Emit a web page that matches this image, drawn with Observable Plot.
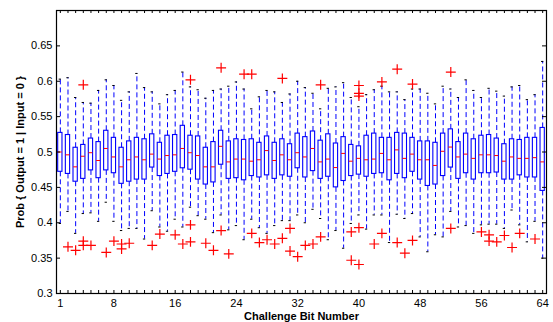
<!DOCTYPE html>
<html><head><meta charset="utf-8">
<script src="https://cdn.jsdelivr.net/npm/d3@7"></script>
<script src="https://cdn.jsdelivr.net/npm/@observablehq/plot@0.6"></script>
<style>body{margin:0;background:#fff}</style>
</head><body><div id="chart"></div>
<script>
const bits = d3.range(1, 65);
const hi = [0.603,0.605,0.577,0.570,0.569,0.587,0.602,0.594,0.573,0.585,0.611,0.591,0.585,0.568,0.581,0.587,0.613,0.592,0.588,0.576,0.587,0.589,0.593,0.599,0.589,0.561,0.578,0.587,0.585,0.570,0.582,0.600,0.591,0.583,0.561,0.590,0.592,0.598,0.577,0.564,0.581,0.588,0.593,0.585,0.585,0.574,0.589,0.589,0.583,0.568,0.593,0.589,0.577,0.602,0.587,0.577,0.590,0.586,0.579,0.592,0.594,0.574,0.581,0.628];
const q3 = [0.527,0.524,0.506,0.510,0.519,0.514,0.530,0.520,0.506,0.515,0.520,0.518,0.525,0.513,0.523,0.524,0.537,0.523,0.522,0.506,0.514,0.530,0.515,0.518,0.517,0.518,0.513,0.522,0.513,0.518,0.511,0.526,0.521,0.529,0.516,0.525,0.512,0.521,0.510,0.508,0.523,0.526,0.520,0.520,0.527,0.526,0.520,0.515,0.515,0.513,0.526,0.532,0.514,0.526,0.518,0.523,0.524,0.519,0.511,0.518,0.517,0.520,0.520,0.534];
const med = [0.500,0.496,0.479,0.494,0.499,0.488,0.505,0.493,0.479,0.489,0.493,0.489,0.497,0.490,0.495,0.496,0.505,0.499,0.495,0.479,0.479,0.508,0.486,0.490,0.490,0.487,0.489,0.502,0.488,0.496,0.489,0.499,0.493,0.505,0.486,0.490,0.478,0.498,0.487,0.491,0.489,0.490,0.498,0.489,0.503,0.491,0.497,0.489,0.489,0.481,0.501,0.507,0.493,0.497,0.491,0.496,0.496,0.495,0.487,0.493,0.491,0.491,0.492,0.486];
const q1 = [0.472,0.469,0.458,0.462,0.474,0.463,0.474,0.470,0.455,0.458,0.461,0.461,0.478,0.466,0.469,0.472,0.477,0.475,0.461,0.454,0.457,0.482,0.462,0.463,0.460,0.466,0.464,0.467,0.462,0.467,0.465,0.477,0.464,0.473,0.462,0.465,0.450,0.459,0.466,0.468,0.465,0.469,0.470,0.460,0.469,0.463,0.472,0.461,0.452,0.454,0.466,0.478,0.462,0.470,0.461,0.470,0.470,0.471,0.461,0.461,0.467,0.464,0.464,0.445];
const lo = [0.399,0.416,0.385,0.413,0.414,0.402,0.429,0.402,0.389,0.392,0.392,0.377,0.417,0.394,0.388,0.405,0.394,0.422,0.410,0.405,0.386,0.411,0.390,0.396,0.376,0.405,0.393,0.385,0.396,0.403,0.403,0.411,0.400,0.419,0.406,0.376,0.389,0.364,0.399,0.411,0.391,0.411,0.411,0.372,0.412,0.406,0.413,0.380,0.359,0.383,0.380,0.416,0.394,0.396,0.385,0.397,0.398,0.398,0.392,0.418,0.397,0.373,0.402,0.350];
const outlierBit = [2,3,4,4,4,5,7,8,9,9,10,13,14,16,17,18,18,18,20,21,22,22,23,25,26,26,27,28,29,30,30,31,31,32,33,34,35,35,39,39,40,40,40,40,40,42,43,43,45,45,46,47,47,52,52,56,57,57,58,59,60,61,63];
const outlierValue = [0.366,0.361,0.595,0.374,0.368,0.368,0.358,0.374,0.370,0.363,0.371,0.368,0.384,0.383,0.370,0.602,0.397,0.373,0.371,0.361,0.619,0.389,0.356,0.610,0.610,0.385,0.372,0.376,0.370,0.604,0.378,0.392,0.360,0.352,0.368,0.370,0.595,0.380,0.387,0.347,0.594,0.583,0.579,0.393,0.341,0.370,0.599,0.385,0.617,0.372,0.357,0.596,0.375,0.613,0.392,0.387,0.383,0.374,0.373,0.382,0.365,0.385,0.377];
const xTickValues = [1,8,16,24,32,40,48,56,64];
const xTickLabels = ["1","8","16","24","32","40","48","56","64"];
const yTickValues = [0.3,0.35,0.4,0.45,0.5,0.55,0.6,0.65];
const yTickLabels = ["0.3","0.35","0.4","0.45","0.5","0.55","0.6","0.65"];
const xTitle = "Challenge Bit Number";
const yTitle = "Prob { Output = 1 | Input = 0 }";

const data = bits.map((b, i) => ({bit: b, lo: lo[i], q1: q1[i], med: med[i], q3: q3[i], hi: hi[i]}));
const outliers = outlierBit.map((b, i) => ({bit: b, v: outlierValue[i]}));

const W = 553, H = 322, mL = 56, mR = 7, mT = 10, mB = 29;
const fw = W - mL - mR, fh = H - mT - mB;
const dash = "5,3";

const chart = Plot.plot({
  width: W, height: H,
  marginLeft: mL, marginRight: mR, marginTop: mT, marginBottom: mB,
  style: {fontFamily: "'Liberation Sans', Arial, sans-serif", fontSize: "11px", background: "white", color: "black"},
  x: {domain: [0.5, 64.5], axis: null},
  y: {domain: [0.3, 0.7], axis: null},
  marks: [
    Plot.ruleX(data, {x: "bit", y1: "q3", y2: "hi", stroke: "blue", strokeDasharray: dash}),
    Plot.ruleX(data, {x: "bit", y1: "q1", y2: "lo", stroke: "blue", strokeDasharray: dash}),
    Plot.ruleY(data, {y: "hi", x1: d => d.bit - 0.15, x2: d => d.bit + 0.15, stroke: "black"}),
    Plot.ruleY(data, {y: "lo", x1: d => d.bit - 0.15, x2: d => d.bit + 0.15, stroke: "black"}),
    Plot.rect(data, {x1: d => d.bit - 0.28, x2: d => d.bit + 0.28, y1: "q1", y2: "q3", fill: "none", stroke: "blue", strokeWidth: 1.1}),
    Plot.ruleY(data, {y: "med", x1: d => d.bit - 0.25, x2: d => d.bit + 0.25, stroke: "red"}),
    Plot.dot(outliers, {x: "bit", y: "v", symbol: "plus", r: 3.3, stroke: "red", strokeWidth: 1.2}),
    Plot.ruleX(bits, {x: d => d, insetTop: fh - 3, stroke: "black"}),
    Plot.ruleX(bits, {x: d => d, insetBottom: fh - 3, stroke: "black"}),
    Plot.ruleY(yTickValues, {y: d => d, insetRight: fw - 4, stroke: "black"}),
    Plot.ruleY(yTickValues, {y: d => d, insetLeft: fw - 4, stroke: "black"}),
    Plot.frame({stroke: "black", strokeWidth: 1.2}),
    Plot.text(xTickValues, {x: d => d, text: (d, i) => xTickLabels[i], frameAnchor: "bottom", lineAnchor: "middle", dy: 10, fill: "black"}),
    Plot.text(yTickValues, {y: d => d, text: (d, i) => yTickLabels[i], frameAnchor: "left", textAnchor: "end", lineAnchor: "middle", dx: -4, fill: "black"}),
    Plot.text([xTitle], {text: d => d, frameAnchor: "bottom", textAnchor: "middle", lineAnchor: "middle", dy: 23, fontWeight: "bold", fill: "black"}),
    Plot.text([yTitle], {text: d => d, frameAnchor: "left", textAnchor: "middle", lineAnchor: "middle", dx: -36, rotate: -90, fontWeight: "bold", fill: "black"})
  ]
});
document.getElementById("chart").appendChild(chart);
</script>
</body></html>
